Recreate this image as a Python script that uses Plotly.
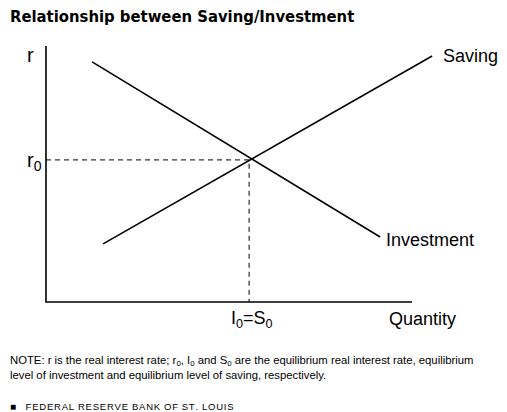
import plotly.graph_objects as go

# curve end points (quantity, interest rate) in chart units
saving_q = [1.56, 10.55]
saving_r = [2.27, 9.61]
invest_q = [1.26, 9.13]
invest_r = [9.38, 2.54]
eq_q = 5.55
eq_r = 5.55
axis_max = 10

W, H = 499, 404  # page body has an 8px margin
line_font = "Liberation Sans"
fig = go.Figure()

# axes drawn as lines
fig.add_trace(go.Scatter(x=[0, 0, axis_max], y=[axis_max, 0, 0], mode="lines",
                         line=dict(color="black", width=1.6)))
fig.add_trace(go.Scatter(x=saving_q, y=saving_r, mode="lines",
                         line=dict(color="black", width=1.6)))
fig.add_trace(go.Scatter(x=invest_q, y=invest_r, mode="lines",
                         line=dict(color="black", width=1.6)))
fig.add_trace(go.Scatter(x=[0, eq_q, eq_q], y=[eq_r, eq_r, 0], mode="lines",
                         line=dict(color="black", width=1, dash="5px,4px")))

ann = [
    dict(x=0, y=9.65, text="r", xanchor="right", xshift=-10, font_size=20),
    dict(x=0, y=eq_r, text="r<sub>0</sub>", xanchor="right", xshift=-2, yshift=-2, font_size=20),
    dict(x=eq_q, y=0, text="I<sub>0</sub>=S<sub>0</sub>", xanchor="center", xshift=3, yshift=-17, font_size=18),
    dict(x=9.32, y=0, text="Quantity", xanchor="left", yshift=-17, font_size=18),
    dict(x=saving_q[1], y=saving_r[1], text="Saving", xanchor="left", xshift=9, font_size=18),
    dict(x=invest_q[1], y=invest_r[1], text="Investment", xanchor="left", xshift=4, yshift=-3, font_size=18),
]
for a in ann:
    fig.add_annotation(showarrow=False, yanchor="middle",
                       font=dict(family=line_font, color="black", size=a.pop("font_size")), **a)

fig.add_annotation(xref="paper", yref="paper", x=0, y=1, xanchor="left", yanchor="top", yshift=3,
                   text="<b>Relationship between Saving/Investment</b>", showarrow=False,
                   font=dict(family="DejaVu Sans Condensed", size=16.5, color="black"))
fig.add_annotation(xref="paper", yref="paper", x=0, y=1 - 344 / H, xanchor="left", yanchor="top",
                   text="NOTE: r is the real interest rate; r<sub>0</sub>, I<sub>0</sub> and S<sub>0</sub> are the "
                        "equilibrium real interest rate, equilibrium<br>level of investment and equilibrium "
                        "level of saving, respectively.",
                   showarrow=False, align="left",
                   font=dict(family="Liberation Sans", size=11.3, color="black"))
footer = "\u200a".join("FEDERAL RESERVE BANK OF ST. LOUIS").replace("\u200a \u200a", "\u2009\u2009")
fig.add_annotation(xref="paper", yref="paper", x=0, y=1 - 398 / H, xanchor="left", yanchor="middle",
                   text="<span style='font-size:10px'>■</span>\u2003" + footer,
                   showarrow=False, font=dict(family="Liberation Sans", size=9.5, color="black"))

fig.update_layout(
    width=W, height=H, margin=dict(l=0, r=0, t=0, b=0),
    paper_bgcolor="white", plot_bgcolor="white", showlegend=False,
    xaxis=dict(range=[-1.038, 12.596], visible=False, fixedrange=True),
    yaxis=dict(range=[-4.297, 11.484], visible=False, fixedrange=True),
)
fig.write_html("out.html")
